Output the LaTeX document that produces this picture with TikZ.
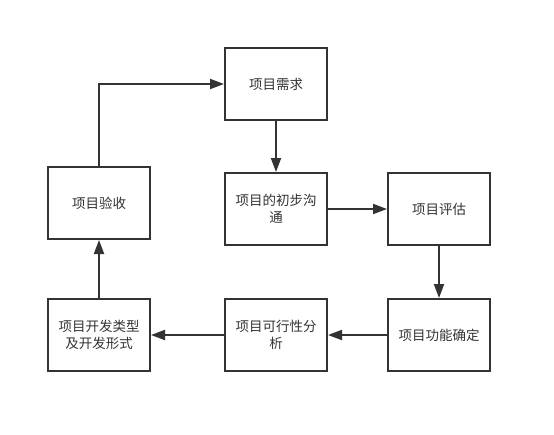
\documentclass[tikz,border=0pt]{standalone}
\usepackage{fontspec}
\setmainfont{Noto Sans CJK SC}
\usepackage{xcolor}
\definecolor{ink}{HTML}{333333}
\usepackage{tikz}
\usetikzlibrary{calc,positioning,arrows.meta}

\begin{document}
\begin{tikzpicture}[x=1pt, y=-1pt,
    box/.style={draw=ink, line width=2pt, minimum width=102pt, minimum height=72pt,
      align=center, inner sep=0pt, text=ink,
      font=\fontsize{13.5}{17}\selectfont},
    flow/.style={draw=ink, line width=2pt, -{Triangle[length=14pt, width=10pt]}}]
  % Frame
  \useasboundingbox[fill=white] (0,0) rectangle (554,434);

  % Boxes
  \node[box] (xuqiu)    at (276,84)  {项目需求};
  \node[box] (goutong)  at (276,209) {项目的初步沟\\通};
  \node[box] (pinggu)   at (439,209) {项目评估};
  \node[box] (gongneng) at (439,335) {项目功能确定};
  \node[box] (kexing)   at (276,335) {项目可行性分\\析};
  \node[box] (kaifa)    at (99,335)  {项目开发类型\\及开发形式};
  \node[box] (yanshou)  at (99,203)  {项目验收};

  % Flow
  \draw[flow] (xuqiu) -- (goutong);
  \draw[flow] (goutong) -- (pinggu);
  \draw[flow] (pinggu) -- (gongneng);
  \draw[flow] (gongneng) -- (kexing);
  \draw[flow] (kexing) -- (kaifa);
  \draw[flow] (kaifa) -- (yanshou);
  \draw[flow] (yanshou.north) |- (xuqiu.west);
\end{tikzpicture}
\end{document}
